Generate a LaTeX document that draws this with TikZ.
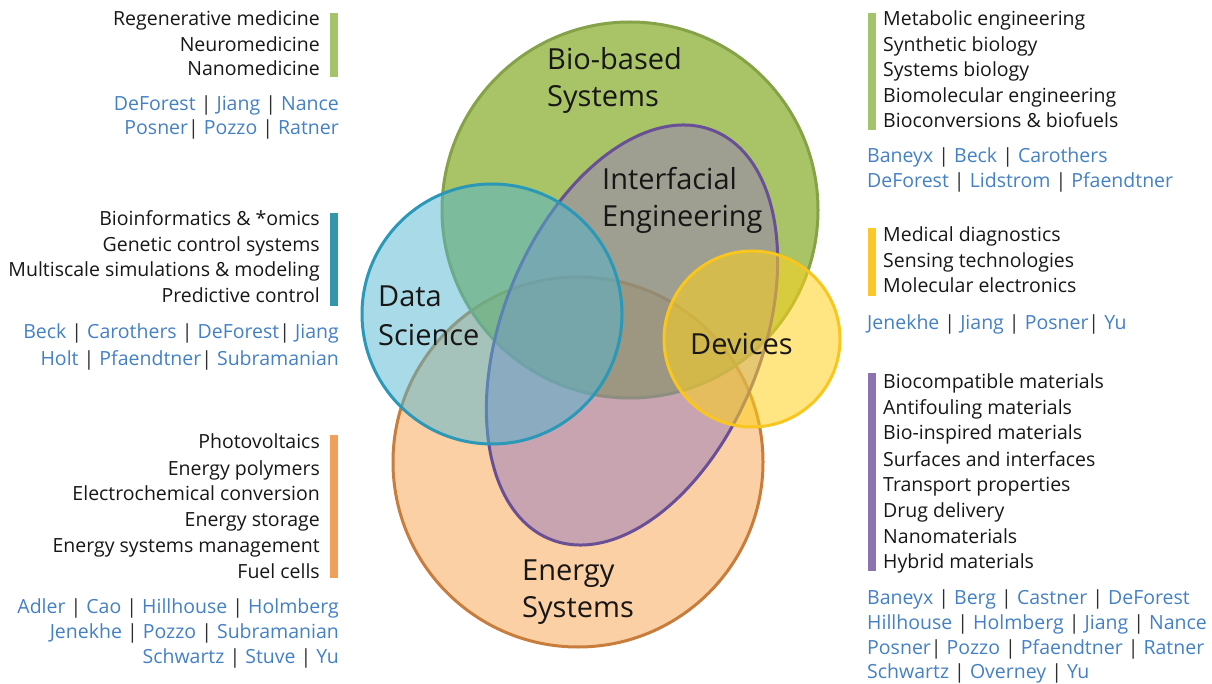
\documentclass[tikz,border=0pt]{standalone}
\usepackage{fontspec}
\setmainfont{Open Sans}
\definecolor{inkDark}{RGB}{25,22,22}
\definecolor{nameBlue}{RGB}{68,128,196}
\definecolor{pipeGray}{RGB}{45,45,45}
\definecolor{bioFill}{RGB}{131,171,39}
\definecolor{bioLine}{RGB}{134,162,72}
\definecolor{bioBar}{RGB}{163,196,104}
\definecolor{dataFill}{RGB}{81,181,209}
\definecolor{dataLine}{RGB}{42,152,182}
\definecolor{dataBar}{RGB}{52,150,170}
\definecolor{energyFill}{RGB}{251,208,165}
\definecolor{energyLine}{RGB}{200,125,60}
\definecolor{energyBar}{RGB}{240,160,90}
\definecolor{devFill}{RGB}{255,210,28}
\definecolor{devLine}{RGB}{248,198,30}
\definecolor{devBar}{RGB}{250,200,40}
\definecolor{ifFill}{RGB}{149,122,185}
\definecolor{ifLine}{RGB}{105,80,150}
\definecolor{ifBar}{RGB}{140,115,175}
\newcommand{\who}[1]{\textcolor{nameBlue}{#1}}
\newcommand{\vsep}{\textcolor{pipeGray}{|}}
\begin{document}
\begin{tikzpicture}[x=1pt,y=-1pt,
    topic/.style={font=\fontsize{19.5}{23}\selectfont, text=inkDark, inner sep=0pt},
    lefttopic/.style={topic, anchor=base east},
    righttopic/.style={topic, anchor=base west},
    people/.style={font=\fontsize{19.5}{23}\selectfont, inner sep=0pt},
    field/.style={font=\fontsize{29}{34}\selectfont, text=inkDark, inner sep=0pt, anchor=base west}]
        \useasboundingbox (0,0) rectangle (1212,684);

        \draw[line width=3, draw=energyLine, fill=energyFill] (578,462) circle (185pt);
        \draw[line width=3, draw=bioLine, fill=bioFill, fill opacity=0.7] (630,210) circle (188pt);
        \draw[line width=3, draw=ifLine, fill=ifFill, fill opacity=0.5, rotate around={-21.7:(632,335)}] (632,335) ellipse [x radius=130pt, y radius=220pt];
        \draw[line width=3, draw=dataLine, fill=dataFill, fill opacity=0.5] (492,314) circle (130pt);
        \draw[line width=3, draw=devLine, fill=devFill, fill opacity=0.55] (752,339) circle (88pt);

        \node[field] (bio1) at (547,70) {Bio-based};
        \node[field] (bio2) at (547,107) {Systems};
        \node[field] (if1) at (602,190) {Interfacial};
        \node[field] (if2) at (602,227) {Engineering};
        \node[field] (data1) at (378,307) {Data};
        \node[field] (data2) at (378,345) {Science};
        \node[field] (dev) at (690,354) {Devices};
        \node[field] (en1) at (522,580) {Energy};
        \node[field] (en2) at (522,617) {Systems};

        \fill[bioBar] (330,13) rectangle (338,77);
        \node[lefttopic] (tl1) at (320,26) {Regenerative medicine};
        \node[lefttopic] (tl2) at (320,52) {Neuromedicine};
        \node[lefttopic] (tl3) at (320,76) {Nanomedicine};
        \node[people, anchor=base east] (tln1) at (339,111) {\who{DeForest} \vsep{} \who{Jiang} \vsep{} \who{Nance}};
        \node[people, anchor=base east] (tln2) at (339,135) {\who{Posner}\vsep{} \who{Pozzo} \vsep{} \who{Ratner}};

        \fill[dataBar] (330,213) rectangle (338,306);
        \node[lefttopic] (ml1) at (320,226) {Bioinformatics \& *omics};
        \node[lefttopic] (ml2) at (320,252) {Genetic control systems};
        \node[lefttopic] (ml3) at (320,277) {Multiscale simulations \& modeling};
        \node[lefttopic] (ml4) at (320,303) {Predictive control};
        \node[people, anchor=base east] (mln1) at (339,338) {\who{Beck} \vsep{} \who{Carothers} \vsep{} \who{DeForest}\vsep{} \who{Jiang}};
        \node[people, anchor=base east] (mln2) at (339,365) {\who{Holt} \vsep{} \who{Pfaendtner}\vsep{} \who{Subramanian}};

        \fill[energyBar] (330,435) rectangle (338,578);
        \node[lefttopic] (bl1) at (320,448) {Photovoltaics};
        \node[lefttopic] (bl2) at (320,475) {Energy polymers};
        \node[lefttopic] (bl3) at (320,500) {Electrochemical conversion};
        \node[lefttopic] (bl4) at (320,526) {Energy storage};
        \node[lefttopic] (bl5) at (320,552) {Energy systems management};
        \node[lefttopic] (bl6) at (320,578) {Fuel cells};
        \node[people, anchor=base east] (bln1) at (339,613) {\who{Adler} \vsep{} \who{Cao} \vsep{} \who{Hillhouse} \vsep{} \who{Holmberg}};
        \node[people, anchor=base east] (bln2) at (339,638) {\who{Jenekhe} \vsep{} \who{Pozzo} \vsep{} \who{Subramanian}};
        \node[people, anchor=base east] (bln3) at (339,663) {\who{Schwartz} \vsep{} \who{Stuve} \vsep{} \who{Yu}};

        \fill[bioBar] (868,13) rectangle (876,130);
        \node[righttopic] (tr1) at (883,26) {Metabolic engineering};
        \node[righttopic] (tr2) at (883,52) {Synthetic biology};
        \node[righttopic] (tr3) at (883,77) {Systems biology};
        \node[righttopic] (tr4) at (883,103) {Biomolecular engineering};
        \node[righttopic] (tr5) at (883,128) {Bioconversions \& biofuels};
        \node[people, anchor=base west] (trn1) at (867,163) {\who{Baneyx} \vsep{} \who{Beck} \vsep{} \who{Carothers}};
        \node[people, anchor=base west] (trn2) at (867,188) {\who{DeForest} \vsep{} \who{Lidstrom} \vsep{} \who{Pfaendtner}};

        \fill[devBar] (868,228) rectangle (876,296);
        \node[righttopic] (mr1) at (883,242) {Medical diagnostics};
        \node[righttopic] (mr2) at (883,268) {Sensing technologies};
        \node[righttopic] (mr3) at (883,293) {Molecular electronics};
        \node[people, anchor=base west] (mrn1) at (867,330) {\who{Jenekhe} \vsep{} \who{Jiang} \vsep{} \who{Posner}\vsep{} \who{Yu}};

        \fill[ifBar] (868,373) rectangle (876,571);
        \node[righttopic] (br1) at (883,388) {Biocompatible materials};
        \node[righttopic] (br2) at (883,414) {Antifouling materials};
        \node[righttopic] (br3) at (883,439) {Bio-inspired materials};
        \node[righttopic] (br4) at (883,466) {Surfaces and interfaces};
        \node[righttopic] (br5) at (883,491) {Transport properties};
        \node[righttopic] (br6) at (883,517) {Drug delivery};
        \node[righttopic] (br7) at (883,543) {Nanomaterials};
        \node[righttopic] (br8) at (883,568) {Hybrid materials};
        \node[people, anchor=base west] (brn1) at (867,604) {\who{Baneyx} \vsep{} \who{Berg} \vsep{} \who{Castner} \vsep{} \who{DeForest}};
        \node[people, anchor=base west] (brn2) at (867,629) {\who{Hillhouse} \vsep{} \who{Holmberg} \vsep{} \who{Jiang} \vsep{} \who{Nance}};
        \node[people, anchor=base west] (brn3) at (867,654) {\who{Posner}\vsep{} \who{Pozzo} \vsep{} \who{Pfaendtner} \vsep{} \who{Ratner}};
        \node[people, anchor=base west] (brn4) at (867,678) {\who{Schwartz} \vsep{} \who{Overney} \vsep{} \who{Yu}};
    \end{tikzpicture}
\end{document}
